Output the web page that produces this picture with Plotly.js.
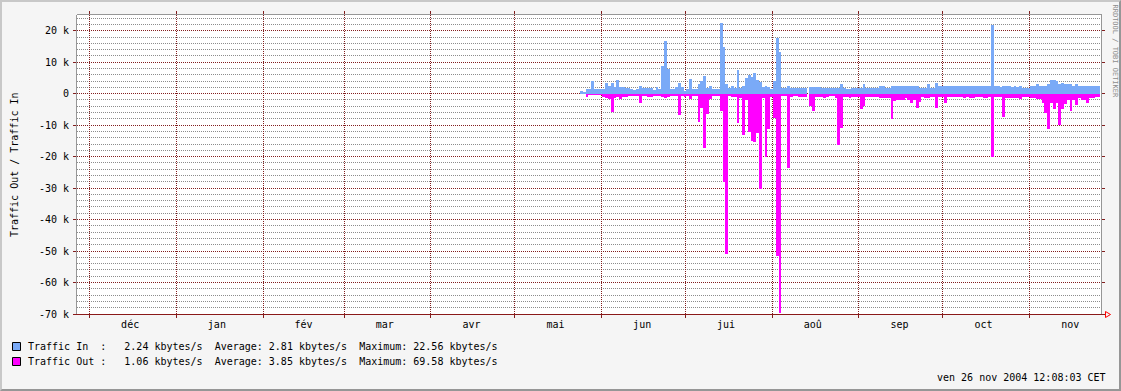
<!DOCTYPE html>
<html><head><meta charset="utf-8">
<script src="https://cdn.plot.ly/plotly-3.0.1.min.js"></script>
<style>
html,body{margin:0;padding:0;background:#F5F5F5;overflow:hidden;}
#wrap{position:relative;width:1121px;height:391px;}
#chart{width:1121px;height:391px;}
#frame{position:absolute;left:0;top:0;width:1121px;height:391px;box-sizing:border-box;border-top:2px solid #C8C8C8;border-left:2px solid #C8C8C8;border-right:2px solid #969696;border-bottom:2px solid #969696;pointer-events:none;}
</style></head>
<body><div id="wrap"><div id="chart"></div><div id="frame"></div></div>
<script>
// ---- data (kbytes/s, one value per day starting 2004-05-24) ----
const firstDay = [2004, 5, 24];
const trafficIn = [
 1.0,0.4,1.4,1.4,4.1,1.4,1.4,1.4,
 1.4,3.3,2.3,3.3,2.0,4.5,2.0,2.0,1.8,1.8,1.6,1.3,1.5,2.6,1.8,1.8,1.8,1.8,1.1,2.0,1.5,8.7,16.6,7.8,1.4,1.4,2.0,3.3,2.0,1.0,
 1.4,4.8,1.4,1.4,3.0,4.1,5.5,1.9,2.6,1.4,1.6,1.6,22.6,14.7,3.0,1.8,2.3,1.8,7.4,1.8,2.3,4.9,6.0,5.2,6.5,4.2,3.6,2.1,2.6,2.0,1.6,
 4.1,17.6,13.1,1.8,1.8,2.3,1.8,1.8,1.8,1.8,1.8,1.8,null,2.0,2.2,2.0,2.0,1.8,1.8,1.8,1.8,1.9,1.9,1.9,3.0,1.9,1.4,1.4,1.9,1.9,1.9,
 1.9,3.0,1.9,1.9,1.9,1.9,1.9,2.3,2.3,1.9,1.9,2.3,2.3,2.6,2.6,2.6,2.6,2.3,2.6,2.3,2.3,1.9,1.9,1.9,3.0,1.9,1.9,3.3,2.6,2.3,
 2.3,2.3,2.3,2.3,2.6,2.6,2.3,2.3,2.3,2.6,2.6,2.6,2.6,2.3,2.3,2.3,2.6,21.8,2.3,2.3,2.1,2.3,2.3,2.3,2.1,2.3,2.1,2.3,1.9,1.9,1.9,
 2.3,2.6,3.0,2.6,2.6,2.6,3.0,4.3,4.5,4.1,3.0,3.3,3.0,3.0,3.0,2.6,3.0,2.6,2.3,2.6,2.6,2.6,2.6,2.6,2.3
];
const trafficOut = [
 0.2,0.2,1.1,0.4,0.5,0.5,0.5,0.5,
 0.9,1.3,1.7,5.9,1.3,1.1,1.7,1.1,0.9,0.6,0.6,0.6,0.6,3.1,0.6,0.6,1.2,1.0,0.6,0.6,0.6,1.1,1.4,0.9,0.6,0.6,0.6,6.8,0.6,0.9,
 0.6,1.7,0.6,0.6,9.0,4.5,17.2,6.5,1.7,0.6,0.6,0.6,5.5,27.9,50.9,0.6,0.9,0.9,9.4,1.3,13.1,2.1,12.1,15.0,15.2,12.5,30.2,1.3,20.1,11.2,1.1,
 7.8,51.5,69.6,0.6,0.6,23.6,0.9,0.6,0.6,0.9,0.9,0.9,null,4.0,5.5,0.9,0.9,1.1,1.3,0.9,0.6,0.8,1.3,16.3,10.9,0.9,0.9,1.3,0.9,1.1,0.9,
 4.9,3.9,1.1,0.9,0.9,1.1,0.9,1.3,1.3,1.3,1.3,8.0,2.3,1.9,1.9,1.9,1.5,1.9,3.0,1.9,4.5,2.5,1.1,1.3,1.3,1.1,1.1,4.5,1.1,1.1,
 3.0,0.9,0.9,0.9,0.9,0.9,0.9,1.3,0.9,1.3,1.3,0.9,0.9,0.9,1.3,1.3,0.9,20.1,0.9,0.9,0.9,7.4,1.3,1.3,1.3,1.3,1.3,1.7,0.9,0.9,0.9,
 1.3,1.3,1.7,1.7,3.0,6.0,11.2,3.0,4.9,3.0,10.0,4.9,3.4,1.9,5.5,1.9,3.6,1.3,1.9,1.9,3.0,1.3,1.3,1.1,1.1
];
const seriesNames = ['Traffic In', 'Traffic Out'];
const lastVals = ['2.24', '1.06'];
const avgVals = ['2.81', '3.85'];
const maxVals = ['22.56', '69.58'];
const monthStarts = ['2003-12-01','2004-01-01','2004-02-01','2004-03-01','2004-04-01','2004-05-01',
  '2004-06-01','2004-07-01','2004-08-01','2004-09-01','2004-10-01','2004-11-01'];
const monthMids = ['2003-12-15 12:00','2004-01-15 12:00','2004-02-15 12:00','2004-03-15 12:00','2004-04-15 12:00','2004-05-15 12:00',
  '2004-06-15 12:00','2004-07-15 12:00','2004-08-15 12:00','2004-09-15 12:00','2004-10-15 12:00','2004-11-15 12:00'];
const monthLabels = ['déc','jan','fév','mar','avr','mai','jun','jui','aoû','sep','oct','nov'];
const yTickVals = [-70,-60,-50,-40,-30,-20,-10,0,10,20];
const yTickText = ['-70 k','-60 k','-50 k','-40 k','-30 k','-20 k','-10 k','0','10 k','20 k'];
const timeRange = ['2003-11-26 12:08:03','2004-11-26 12:08:03'];
const stamp = 'ven 26 nov 2004 12:08:03 CET';
const credit = 'RRDTOOL / TOBI OETIKER';
const yTitle = 'Traffic Out / Traffic In';

// ---- build ----
const days = trafficIn.map((_, i) => new Date(Date.UTC(firstDay[0], firstDay[1]-1, firstDay[2] + i)).toISOString().slice(0,10));
const W = 1121, H = 391, L = 77, R = 20, T = 15, B = 77;
const PW = W - L - R, PH = H - T - B;
const px = v => (v - L) / PW;
const py = v => (H - B - v) / PH;
const MONO = 'DejaVu Sans Mono';
const nb = s => s.replace(/ /g, '\u00A0');
const colors = ['#7AAAF7', '#FF00FF'];

const traces = [
  {type:'bar', x: days, y: trafficIn, width: 864e5, offset: 7*36e5,
   marker:{color: colors[0], line:{width:0}}, hoverinfo:'skip', showlegend:false},
  {type:'bar', x: days, y: trafficOut.map(v => v == null ? null : -v), width: 864e5, offset: 7*36e5,
   marker:{color: colors[1], line:{width:0}}, hoverinfo:'skip', showlegend:false},
  {type:'scatter', mode:'markers', x: monthMids, y: monthMids.map(() => 0), xaxis:'x2', yaxis:'y',
   marker:{opacity:0, size:1}, hoverinfo:'skip', showlegend:false}
];

const annotations = [];
const shapes = [];
seriesNames.forEach((n, i) => {
  const yc = 346.5 + i*15.5;
  const txt = (n + '            ').slice(0,12) + ':   ' + lastVals[i] + ' kbytes/s  Average: ' + avgVals[i] +
     ' kbytes/s  Maximum: ' + maxVals[i] + ' kbytes/s';
  annotations.push({xref:'paper', yref:'paper', x: px(25.5), y: py(yc), xanchor:'left', yanchor:'middle',
    text: nb(txt), showarrow:false, font:{family:MONO, size:10, color:'#000'}});
  const top = 342.5 + i*15;
  shapes.push({type:'rect', xref:'paper', yref:'paper', x0: px(12.5), x1: px(20.5), y0: py(top+8), y1: py(top),
    fillcolor: colors[i], line:{color:'#000', width:1}});
});
annotations.push({xref:'paper', yref:'paper', x: px(14), y: py(165), xanchor:'center', yanchor:'middle',
  text: nb(yTitle), textangle:-90, showarrow:false, font:{family:MONO, size:10, color:'#000'}});
annotations.push({xref:'paper', yref:'paper', x: px(1107.5), y: py(377), xanchor:'right', yanchor:'middle',
  text: nb(stamp), showarrow:false, font:{family:MONO, size:10, color:'#000'}});
annotations.push({xref:'paper', yref:'paper', x: px(1114.5), y: py(51), xanchor:'center', yanchor:'middle',
  text: nb(credit), textangle:90, showarrow:false, font:{family:MONO, size:7, color:'#8C8C8C'}});

// plot frame: top border, bottom axis line, arrow
shapes.push({type:'line', xref:'paper', yref:'paper', x0:px(77), x1:px(1102), y0:py(14.5), y1:py(14.5), line:{color:'#969696', width:1}, layer:'above'});
shapes.push({type:'line', xref:'paper', yref:'paper', x0:px(73), x1:px(1105), y0:py(314.5), y1:py(314.5), line:{color:'#8B1A1A', width:1}, layer:'above'});
shapes.push({type:'path', xref:'paper', yref:'paper',
  path: 'M' + px(1105.5) + ',' + py(311.5) + ' L' + px(1110.5) + ',' + py(314.5) + ' L' + px(1105.5) + ',' + py(317.5) + ' Z',
  line:{color:'#FF0000', width:1}, fillcolor:'rgba(0,0,0,0)', layer:'above'});

const layout = {
  width: W, height: H,
  margin: {l:L, r:R, t:T, b:B, pad:0},
  paper_bgcolor: '#F5F5F5', plot_bgcolor: '#FFFFFF',
  barmode: 'overlay', bargap: 0,
  showlegend: false,
  xaxis: {type:'date', range: timeRange, tickmode:'array', tickvals: monthStarts, showticklabels:false,
    showgrid:true, gridcolor:'#821E1E', griddash:'1px,1px', gridwidth:1,
    ticks:'outside', ticklen:3, tickcolor:'#821E1E', mirror:'ticks', showline:false, zeroline:false, fixedrange:true},
  xaxis2: {type:'date', overlaying:'x', anchor:'y', side:'bottom', range: timeRange, tickmode:'array',
    tickvals: monthMids, ticktext: monthLabels, showgrid:false, ticks:'', showline:false, zeroline:false,
    tickfont:{family:MONO, size:10, color:'#000'}, ticklabelstandoff: 3, fixedrange:true},
  yaxis: {range:[-70, 25], tickmode:'array', tickvals: yTickVals, ticktext: yTickText,
    showgrid:true, gridcolor:'#821E1E', griddash:'1px,1px', gridwidth:1,
    minor: {tickmode:'linear', tick0:0, dtick:2, showgrid:true, gridcolor:'#8C8C8C', griddash:'1px,1px', gridwidth:1, ticks:''},
    zeroline:false, showline:true, linecolor:'#969696', linewidth:1, mirror:'ticks',
    ticks:'outside', ticklen:3, tickcolor:'#821E1E', ticklabelstandoff:2,
    tickfont:{family:MONO, size:10, color:'#000'}, fixedrange:true},
  annotations, shapes
};
Plotly.newPlot('chart', traces, layout, {displayModeBar:false, staticPlot:true});
</script></body></html>
